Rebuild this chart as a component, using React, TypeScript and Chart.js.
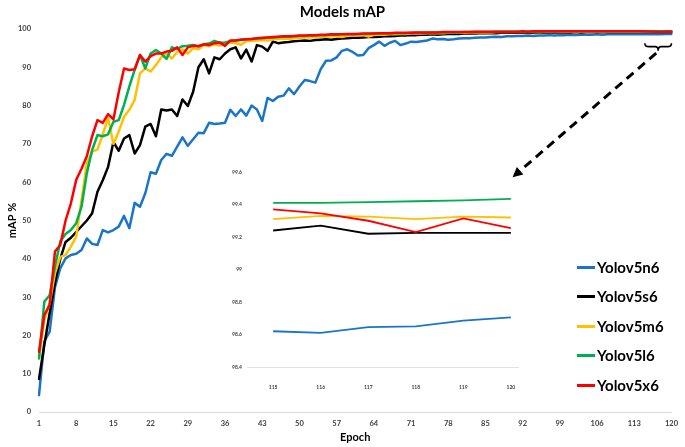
import React, { useEffect, useRef } from 'react';
import { Chart, registerables } from 'chart.js';
Chart.register(...registerables);

const EPOCHS = Array.from({ length: 120 }, (_, i) => String(i + 1));
const X_TICK_LABELS = ['1', '8', '15', '22', '29', '36', '43', '50', '57', '64', '71', '78', '85', '92', '99', '106', '113', '120'];
const SERIES_NAMES = ['Yolov5n6', 'Yolov5s6', 'Yolov5m6', 'Yolov5l6', 'Yolov5x6'];
const SERIES_COLORS = ['#1a75c9', '#000000', '#ffc000', '#00b050', '#ff0000'];

const YOLOV5N6 = [
  4.4, 18.4, 21.0, 32.5, 37.5, 40.1, 41.0, 41.3, 42.3, 45.3,
  43.9, 43.6, 47.5, 46.9, 47.5, 48.4, 51.2, 48.0, 54.6, 53.6,
  57.1, 62.6, 62.2, 65.8, 67.4, 66.9, 69.3, 71.7, 69.5, 71.2,
  72.9, 72.8, 75.5, 75.2, 75.3, 75.5, 78.9, 77.3, 79.0, 77.4,
  80.0, 79.0, 76.0, 82.0, 81.2, 82.3, 82.6, 84.5, 83.0, 85.0,
  86.7, 86.4, 86.0, 89.5, 91.7, 91.8, 92.6, 94.3, 94.7, 94.0,
  93.1, 93.2, 95.0, 95.8, 96.7, 95.6, 96.4, 96.9, 95.8, 96.2,
  96.7, 96.6, 96.8, 97.0, 97.5, 97.3, 97.4, 97.2, 97.3, 97.5,
  97.6, 97.6, 97.7, 97.8, 97.8, 97.9, 98.0, 97.9, 98.1, 98.1,
  98.2, 98.2, 98.3, 98.2, 98.3, 98.3, 98.4, 98.3, 98.4, 98.4,
  98.5, 98.4, 98.5, 98.5, 98.5, 98.6, 98.5, 98.6, 98.6, 98.6,
  98.6, 98.6, 98.6, 98.6, 98.62, 98.61, 98.645, 98.65, 98.685, 98.705,
];
const YOLOV5S6 = [
  8.6, 17.5, 25.8, 33.6, 40.0, 44.4, 45.5, 47.0, 48.5, 50.0,
  51.9, 57.5, 60.5, 64.0, 70.5, 68.2, 71.4, 72.3, 67.5, 69.7,
  74.5, 75.2, 72.0, 79.0, 78.7, 79.0, 77.3, 81.6, 79.9, 83.6,
  90.0, 92.1, 88.4, 92.6, 92.1, 93.6, 94.7, 95.2, 92.3, 94.6,
  91.5, 95.8, 95.4, 94.3, 96.7, 96.3, 96.5, 96.6, 96.8, 96.9,
  97.0, 96.9, 97.1, 97.2, 97.3, 97.2, 97.4, 97.5, 97.6, 97.7,
  97.7, 97.8, 97.9, 97.9, 98.0, 98.1, 98.1, 98.2, 98.3, 98.3,
  98.4, 98.4, 98.5, 98.5, 98.6, 98.5, 98.6, 98.7, 98.7, 98.7,
  98.8, 98.8, 98.8, 98.9, 98.9, 98.9, 98.9, 99.0, 99.0, 99.0,
  99.0, 99.0, 99.1, 99.0, 99.1, 99.1, 99.1, 99.1, 99.1, 99.1,
  99.1, 99.2, 99.1, 99.2, 99.2, 99.2, 99.2, 99.2, 99.2, 99.2,
  99.2, 99.2, 99.2, 99.2, 99.24, 99.27, 99.22, 99.225, 99.225, 99.225,
];
const YOLOV5M6 = [
  14.0, 24.0, 28.4, 36.2, 40.5, 41.0, 43.2, 45.8, 55.4, 64.9,
  68.0, 68.5, 72.5, 76.7, 70.0, 73.2, 77.1, 78.9, 81.5, 88.4,
  89.7, 88.9, 90.6, 92.6, 93.6, 92.3, 94.0, 94.7, 93.6, 95.0,
  94.7, 95.8, 95.5, 96.0, 95.7, 96.2, 96.5, 96.3, 95.9, 96.8,
  96.9, 97.0, 97.1, 97.0, 97.3, 97.4, 97.5, 97.4, 97.6, 97.7,
  97.8, 97.8, 97.9, 98.0, 98.0, 98.1, 98.1, 97.9, 98.2, 98.3,
  98.3, 98.4, 98.0, 98.4, 98.5, 98.5, 98.6, 98.6, 98.7, 98.7,
  98.8, 98.8, 98.8, 98.9, 98.9, 98.9, 98.9, 99.0, 99.0, 99.0,
  99.0, 99.1, 99.1, 99.1, 99.1, 99.1, 99.2, 99.2, 99.2, 99.2,
  99.2, 99.2, 99.2, 99.3, 99.2, 99.3, 99.3, 99.3, 99.3, 99.3,
  99.3, 99.3, 99.3, 99.3, 99.3, 99.3, 99.3, 99.3, 99.3, 99.3,
  99.3, 99.3, 99.3, 99.3, 99.31, 99.33, 99.325, 99.31, 99.325, 99.32,
];
const YOLOV5L6 = [
  14.0, 28.8, 30.5, 38.0, 44.5, 46.5, 47.5, 49.3, 53.6, 62.3,
  68.4, 72.3, 72.0, 72.5, 75.8, 76.2, 80.2, 85.0, 89.3, 93.2,
  89.7, 93.6, 94.5, 93.6, 92.2, 95.2, 94.8, 95.5, 95.6, 95.8,
  95.5, 96.0, 96.2, 96.9, 96.4, 96.5, 96.8, 97.0, 97.2, 97.3,
  97.4, 97.5, 97.6, 97.7, 97.8, 97.9, 98.0, 98.0, 98.1, 98.2,
  98.2, 98.3, 98.3, 98.4, 98.4, 98.5, 98.5, 98.6, 98.6, 98.6,
  98.7, 98.7, 98.7, 98.8, 98.8, 98.8, 98.9, 98.9, 98.9, 98.9,
  99.0, 99.0, 99.0, 99.0, 99.1, 99.1, 99.1, 99.1, 99.1, 99.1,
  99.2, 99.2, 99.2, 99.2, 99.2, 99.2, 99.3, 99.3, 99.3, 99.3,
  99.3, 99.3, 99.3, 99.3, 99.3, 99.3, 99.4, 99.3, 99.4, 99.4,
  99.4, 99.4, 99.4, 99.4, 99.4, 99.4, 99.4, 99.4, 99.4, 99.4,
  99.4, 99.4, 99.4, 99.4, 99.41, 99.41, 99.415, 99.42, 99.425, 99.434,
];
const YOLOV5X6 = [
  15.7, 25.3, 28.0, 41.9, 43.6, 50.0, 54.5, 60.6, 63.5, 66.8,
  72.0, 76.2, 75.5, 77.8, 76.4, 83.5, 89.7, 89.3, 89.5, 93.2,
  91.5, 92.9, 93.6, 93.6, 94.1, 94.3, 95.2, 93.2, 95.2, 95.6,
  95.5, 96.0, 95.8, 96.3, 96.5, 95.6, 97.0, 97.0, 97.2, 97.3,
  97.4, 97.6, 97.7, 97.8, 97.9, 98.0, 98.1, 98.1, 98.2, 98.3,
  98.3, 98.4, 98.4, 98.5, 98.5, 98.6, 98.6, 98.6, 98.7, 98.7,
  98.7, 98.8, 98.8, 98.8, 98.9, 98.9, 98.9, 99.0, 99.0, 99.0,
  99.0, 99.1, 99.1, 99.1, 99.1, 99.1, 99.2, 99.2, 99.2, 99.2,
  99.2, 99.2, 99.3, 99.3, 99.3, 99.3, 99.3, 99.3, 99.3, 99.3,
  99.3, 99.4, 99.3, 99.4, 99.4, 99.4, 99.4, 99.4, 99.4, 99.4,
  99.4, 99.4, 99.4, 99.4, 99.4, 99.4, 99.4, 99.4, 99.4, 99.4,
  99.4, 99.4, 99.4, 99.4, 99.37, 99.345, 99.30, 99.23, 99.315, 99.255,
];
const SERIES = [YOLOV5N6, YOLOV5S6, YOLOV5M6, YOLOV5L6, YOLOV5X6];

// zoomed inset: last six epochs
const INSET_EPOCHS = [115, 116, 117, 118, 119, 120];
const INSET_START_INDEX = 114;

// annotation anchors (in data units)
const BRACE_FROM_INDEX = 114;
const BRACE_TO_INDEX = 119;
const BRACE_VALUE = 96.3;
const ARROW_TIP_INDEX = 89.1;
const ARROW_TIP_VALUE = 61.3;

const FONT = 'Lato';
const TICK_COLOR = '#404040';

const annotationPlugin = {
  id: 'zoomAnnotation',
  afterDatasetsDraw(chart: any) {
    const { ctx, scales } = chart;
    const x = scales.x;
    const y = scales.y;
    const x0 = x.getPixelForValue(BRACE_FROM_INDEX);
    const x1 = x.getPixelForValue(BRACE_TO_INDEX);
    const xm = (x0 + x1) / 2;
    const yt = y.getPixelForValue(BRACE_VALUE);
    ctx.save();
    ctx.strokeStyle = '#000';
    ctx.lineWidth = 1.6;
    ctx.beginPath();
    ctx.moveTo(x0, yt);
    ctx.quadraticCurveTo(x0, yt + 3.5, x0 + 4, yt + 3.5);
    ctx.lineTo(xm - 3, yt + 3.5);
    ctx.quadraticCurveTo(xm, yt + 3.5, xm, yt + 7.5);
    ctx.quadraticCurveTo(xm, yt + 3.5, xm + 3, yt + 3.5);
    ctx.lineTo(x1 - 4, yt + 3.5);
    ctx.quadraticCurveTo(x1, yt + 3.5, x1, yt);
    ctx.stroke();

    const sx = xm - 2;
    const sy = yt + 10;
    const tx = x.getPixelForValue(ARROW_TIP_INDEX);
    const ty = y.getPixelForValue(ARROW_TIP_VALUE);
    const ang = Math.atan2(ty - sy, tx - sx);
    const headLen = 10;
    const ex = tx - Math.cos(ang) * headLen * 0.8;
    const ey = ty - Math.sin(ang) * headLen * 0.8;
    ctx.lineWidth = 3;
    ctx.setLineDash([9, 6]);
    ctx.beginPath();
    ctx.moveTo(sx, sy);
    ctx.lineTo(ex, ey);
    ctx.stroke();
    ctx.setLineDash([]);
    ctx.fillStyle = '#000';
    ctx.beginPath();
    ctx.moveTo(tx, ty);
    ctx.lineTo(tx - Math.cos(ang) * headLen + Math.sin(ang) * 5, ty - Math.sin(ang) * headLen - Math.cos(ang) * 5);
    ctx.lineTo(tx - Math.cos(ang) * headLen - Math.sin(ang) * 5, ty - Math.sin(ang) * headLen + Math.cos(ang) * 5);
    ctx.closePath();
    ctx.fill();
    ctx.restore();
  },
};

export default function App() {
  const mainRef = useRef<HTMLCanvasElement>(null);
  const insetRef = useRef<HTMLCanvasElement>(null);

  useEffect(() => {
    Chart.defaults.font.family = FONT;
    const main = new Chart(mainRef.current as HTMLCanvasElement, {
      type: 'line',
      data: {
        labels: EPOCHS,
        datasets: SERIES.map((d, i) => ({
          label: SERIES_NAMES[i],
          data: d,
          borderColor: SERIES_COLORS[i],
          backgroundColor: SERIES_COLORS[i],
          borderWidth: 2.5,
          pointRadius: 0,
          borderJoinStyle: 'round' as const,
          borderCapStyle: 'round' as const,
          order: SERIES.length - 1 - i,
        })),
      },
      options: {
        responsive: false,
        maintainAspectRatio: false,
        animation: false,
        layout: { padding: { left: 0, right: 0, top: 0, bottom: 0 } },
        plugins: {
          legend: { display: false },
          tooltip: { enabled: false },
          title: {
            display: true,
            text: 'Models mAP',
            color: '#000',
            font: { family: FONT, size: 15, weight: 'bold' },
            padding: { top: 3, bottom: 8 },
          },
        },
        scales: {
          x: {
            type: 'category',
            grid: { display: false, drawTicks: false },
            border: { display: true, color: '#d9d9d9', width: 1 },
            ticks: {
              autoSkip: false,
              maxRotation: 0,
              minRotation: 0,
              padding: 7,
              color: TICK_COLOR,
              font: { family: FONT, size: 7.5, weight: 'bold' },
              callback: (_v: any, index: number) => (X_TICK_LABELS.includes(EPOCHS[index]) ? EPOCHS[index] : ''),
            },
            title: {
              display: true,
              text: 'Epoch',
              color: '#000',
              font: { family: FONT, size: 11, weight: 'bold' },
              padding: { top: 0, bottom: 3.4 },
            },
            afterFit: (scale: any) => { scale.height = 35; },
          },
          y: {
            min: 0,
            max: 100,
            grid: { display: false, drawTicks: false },
            border: { display: false },
            ticks: {
              stepSize: 10,
              padding: 8,
              color: TICK_COLOR,
              font: { family: FONT, size: 7.5, weight: 'bold' },
            },
            title: {
              display: true,
              text: 'mAP %',
              color: '#000',
              font: { family: FONT, size: 11, weight: 'bold' },
              padding: { top: 6, bottom: 0 },
            },
            afterFit: (scale: any) => { scale.width = 39; },
          },
        },
      },
      plugins: [annotationPlugin],
    } as any);

    const inset = new Chart(insetRef.current as HTMLCanvasElement, {
      type: 'line',
      data: {
        datasets: SERIES.map((d, i) => ({
          label: SERIES_NAMES[i],
          data: INSET_EPOCHS.map((e, k) => ({ x: e, y: d[INSET_START_INDEX + k] })),
          borderColor: SERIES_COLORS[i],
          backgroundColor: SERIES_COLORS[i],
          borderWidth: 1.8,
          pointRadius: 0,
          order: SERIES.length - 1 - i,
        })),
      },
      options: {
        responsive: false,
        maintainAspectRatio: false,
        animation: false,
        layout: { padding: { left: 0, right: 22, top: 22, bottom: 0 } },
        plugins: { legend: { display: false }, tooltip: { enabled: false }, title: { display: false } },
        scales: {
          x: {
            type: 'linear',
            min: 114.45,
            max: 120.15,
            grid: { display: false, drawTicks: false },
            border: { display: true, color: '#e3e3e3', width: 1 },
            ticks: {
              stepSize: 1,
              includeBounds: false,
              padding: 17,
              color: TICK_COLOR,
              font: { family: FONT, size: 5, weight: 'bold' },
              callback: (v: any) => String(v),
            },
            afterFit: (scale: any) => { scale.height = 33; },
          },
          y: {
            min: 98.4,
            max: 99.6,
            grid: { display: false, drawTicks: false },
            border: { display: false },
            ticks: {
              stepSize: 0.2,
              padding: 5,
              color: TICK_COLOR,
              font: { family: FONT, size: 5, weight: 'bold' },
              callback: (v: any) => String(Math.round(Number(v) * 10) / 10),
            },
            afterFit: (scale: any) => { scale.width = 22; },
          },
        },
      },
    } as any);

    return () => {
      main.destroy();
      inset.destroy();
    };
  }, []);

  return (
    <div style={{ position: 'absolute', left: 0, top: 0, width: 685, height: 447, background: '#fff', overflow: 'hidden' }}>
      <canvas ref={mainRef} width={685} height={447} style={{ position: 'absolute', left: 0, top: 0 }} />
      <canvas ref={insetRef} width={315} height={250} style={{ position: 'absolute', left: 225, top: 150 }} />
      <div style={{ position: 'absolute', left: 577, top: 252.5 }}>
        {SERIES_NAMES.map((name, i) => (
          <div key={name} style={{ display: 'flex', alignItems: 'center', height: 29.5 }}>
            <span style={{ display: 'inline-block', width: 18, height: 3, background: SERIES_COLORS[i], marginRight: 2 }} />
            <span style={{ fontFamily: FONT, fontWeight: 'bold', fontSize: 15, color: '#000', lineHeight: 1 }}>{name}</span>
          </div>
        ))}
      </div>
    </div>
  );
}
